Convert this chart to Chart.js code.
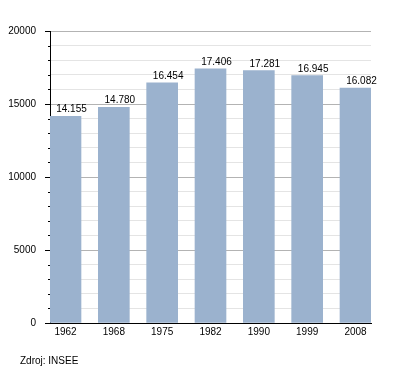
<!DOCTYPE html>
<html>
<head>
<meta charset="utf-8">
<script src="https://cdn.jsdelivr.net/npm/chart.js@4"></script>
<style>
  html, body { margin: 0; padding: 0; background: #fff; }
  #wrap { width: 400px; height: 373px; }
</style>
</head>
<body>
<div id="wrap"><canvas id="myChart" width="400" height="373"></canvas></div>
<script>
// data
const years = ['1962', '1968', '1975', '1982', '1990', '1999', '2008'];
const population = [14155, 14780, 16454, 17406, 17281, 16945, 16082];
const yTicks = [0, 5000, 10000, 15000, 20000];
const source = 'Zdroj: INSEE';

const barColor = 'rgb(155,178,206)';

Chart.defaults.font.family = '"Liberation Sans", Arial, sans-serif';
Chart.defaults.font.size = 10;
Chart.defaults.color = '#000';

// thousands with a dot, like 14.155
const fmt = v => String(v).replace(/\B(?=(\d{3})+(?!\d))/g, '.');

const valueLabels = {
    id: 'valueLabels',
    afterDatasetsDraw(chart) {
        const ctx = chart.ctx;
        const meta = chart.getDatasetMeta(0);
        ctx.save();
        ctx.fillStyle = '#000';
        ctx.font = '10px "Liberation Sans", Arial, sans-serif';
        ctx.textAlign = 'center';
        ctx.textBaseline = 'alphabetic';
        meta.data.forEach((bar, i) => {
            ctx.fillText(fmt(population[i]), bar.x + 6, bar.y - 4);
        });
        ctx.restore();
    },
    afterDraw(chart) {
        const ctx = chart.ctx;
        const y = chart.scales.y;
        const left = chart.chartArea.left;
        ctx.save();
        // short minor ticks every 1000
        ctx.strokeStyle = '#000';
        ctx.lineWidth = 1;
        ctx.beginPath();
        for (let v = 1000; v < 20000; v += 1000) {
            if (v % 5000 === 0) continue;
            const py = Math.round(y.getPixelForValue(v)) + 0.5;
            ctx.moveTo(left - 2, py);
            ctx.lineTo(left, py);
        }
        ctx.stroke();
        // source note
        ctx.fillStyle = '#000';
        ctx.font = '10px "Liberation Sans", Arial, sans-serif';
        ctx.textAlign = 'left';
        ctx.textBaseline = 'alphabetic';
        ctx.fillText(source, 20, 364);
        ctx.restore();
    }
};

new Chart(document.getElementById('myChart'), {
    type: 'bar',
    data: {
        labels: years,
        datasets: [{
            label: 'Population',
            data: population.map((v, i) => ({ x: i, y: v })),
            backgroundColor: barColor,
            borderWidth: 0,
            barThickness: 31
        }]
    },
    options: {
        responsive: false,
        animation: false,
        layout: { padding: { top: 31, right: 29, left: 0, bottom: 0 } },
        plugins: {
            legend: { display: false },
            tooltip: { enabled: false }
        },
        scales: {
            x: {
                type: 'linear',
                offset: false,
                min: -0.3207,
                max: 6.3207,
                afterBuildTicks: scale => {
                    scale.ticks = years.map((_, i) => ({ value: i }));
                },
                afterFit: scale => { scale.height = 50; },
                grid: { display: false, drawTicks: false },
                border: { display: true, color: '#000', width: 1 },
                ticks: {
                    padding: 3,
                    autoSkip: false,
                    maxRotation: 0,
                    callback: v => years[v]
                }
            },
            y: {
                min: 0,
                max: 20000,
                afterBuildTicks: scale => {
                    const t = [];
                    for (let v = 0; v <= 20000; v += 1000) t.push({ value: v });
                    scale.ticks = t;
                },
                afterFit: scale => { scale.width = 50; },
                grid: {
                    color: c => (c.tick && c.tick.value % 5000 === 0) ? '#b3b3b3' : '#e4e4e4',
                    tickColor: c => (c.tick && c.tick.value % 5000 === 0) ? '#000' : 'rgba(0,0,0,0)',
                    tickLength: 5,
                    drawTicks: true
                },
                border: { display: true, color: '#000', width: 1 },
                ticks: {
                    padding: 9,
                    autoSkip: false,
                    callback: v => yTicks.includes(v) ? String(v) : ''
                }
            }
        }
    },
    plugins: [valueLabels]
});
</script>
</body>
</html>
